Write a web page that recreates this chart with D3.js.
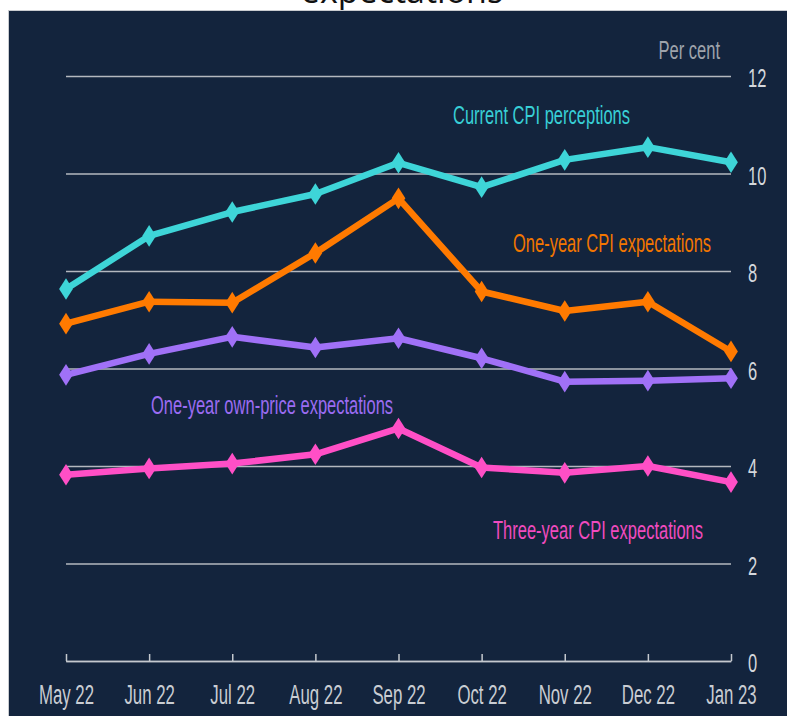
<!DOCTYPE html>
<html>
<head>
<meta charset="utf-8">
<script src="https://cdn.jsdelivr.net/npm/d3@7"></script>
<style>
  body { margin: 0; background: #ffffff; }
  svg { display: block; }
</style>
</head>
<body>
<div id="chart"></div>
<script>
// months along the bottom
var months = ["May 22", "Jun 22", "Jul 22", "Aug 22", "Sep 22", "Oct 22", "Nov 22", "Dec 22", "Jan 23"];

// series values, per cent
var currentCpi   = [7.63, 8.72, 9.21, 9.58, 10.22, 9.72, 10.28, 10.54, 10.23];
var oneYearCpi   = [6.92, 7.37, 7.35, 8.37, 9.49, 7.58, 7.18, 7.37, 6.35];
var ownPrice     = [5.87, 6.30, 6.65, 6.43, 6.62, 6.21, 5.73, 5.75, 5.80];
var threeYearCpi = [3.82, 3.95, 4.05, 4.24, 4.77, 3.97, 3.86, 4.00, 3.67];

var yTicks = [0, 2, 4, 6, 8, 10, 12];

var W = 787, H = 716;
var squeeze = 0.635;   // the source text is narrow

var svg = d3.select("#chart").append("svg")
    .attr("width", W)
    .attr("height", H);

// cut-off title line (the reference only shows its bottom)
svg.append("text")
    .attr("x", 402)
    .attr("y", 3)
    .attr("text-anchor", "middle")
    .attr("font-family", "'Open Sans', sans-serif")
    .attr("font-size", 34)
    .attr("fill", "#111")
    .text("expectations");

// panel
svg.append("rect")
    .attr("x", 8.5).attr("y", 10.5)
    .attr("width", W).attr("height", H)
    .attr("fill", "#13243d")
    .attr("stroke", "#c9ccd0")
    .attr("stroke-width", 1);

var x = d3.scalePoint().domain(months).range([66, 731]);
var y = d3.scaleLinear().domain([0, 12]).range([661, 76]);

var fontFamily = "'Liberation Sans', Arial, sans-serif";

//gridlines + right hand labels
var yAxis = svg.append("g")
    .attr("transform", "translate(66,0)")
    .call(d3.axisRight(y).tickValues(yTicks).tickSize(665).tickFormat(d3.format("d")));

yAxis.select(".domain").remove();
yAxis.selectAll(".tick line")
    .attr("stroke", "#b4b8bf")
    .attr("stroke-width", 1.5);
yAxis.selectAll(".tick text")
    .attr("x", null).attr("dy", null)
    .attr("transform", "translate(682,10.5) scale(" + squeeze + ",1)")
    .attr("font-family", fontFamily)
    .attr("font-size", 26)
    .attr("fill", "#d4d7dc");

// bottom axis, ticks pointing up
var xAxis = svg.append("g")
    .attr("transform", "translate(0,661)")
    .call(d3.axisBottom(x).tickSizeInner(-7).tickSizeOuter(0));

xAxis.select(".domain")
    .attr("stroke", "#c4c8ce")
    .attr("stroke-width", 1.5);
xAxis.selectAll(".tick line")
    .attr("stroke", "#c4c8ce")
    .attr("stroke-width", 1.5);
xAxis.selectAll(".tick text")
    .attr("y", null).attr("dy", null)
    .attr("transform", "translate(0,43) scale(0.6,1)")
    .attr("font-family", fontFamily)
    .attr("font-size", 28)
    .attr("fill", "#c9cdd3");

function addLabel(px, py, str, color, anchor) {
    svg.append("text")
        .attr("transform", "translate(" + px + "," + py + ") scale(" + squeeze + ",1)")
        .attr("text-anchor", anchor || "start")
        .attr("font-family", fontFamily)
        .attr("font-size", 26)
        .attr("fill", color)
        .text(str);
}

addLabel(720, 59, "Per cent", "#9ea3ab", "end");

var series = [
    { values: currentCpi,   color: "#3ed5d8" },
    { values: oneYearCpi,   color: "#ff7a00" },
    { values: ownPrice,     color: "#a071f7" },
    { values: threeYearCpi, color: "#ff4fc6" }
];

var line = d3.line()
    .x(function(d, i) { return x(months[i]); })
    .y(function(d) { return y(d); });

var diamond = d3.symbol().type(d3.symbolDiamond).size(135);

series.forEach(function(s) {
    var g = svg.append("g");
    g.append("path")
        .attr("d", line(s.values))
        .attr("fill", "none")
        .attr("stroke", s.color)
        .attr("stroke-width", 6.5)
        .attr("stroke-linejoin", "round");

    g.selectAll("path.pt")
        .data(s.values)
        .enter().append("path")
        .attr("class", "pt")
        .attr("d", diamond)
        .attr("fill", s.color)
        .attr("transform", function(d, i) {
            return "translate(" + x(months[i]) + "," + y(d) + ") scale(1.1,1)";
        });
});

addLabel(453, 124, "Current CPI perceptions", "#38cfd6");
addLabel(513, 252, "One-year CPI expectations", "#f27600");
addLabel(151, 414, "One-year own-price expectations", "#9b6cf2");
addLabel(493, 539, "Three-year CPI expectations", "#f04bbf");
</script>
</body>
</html>
